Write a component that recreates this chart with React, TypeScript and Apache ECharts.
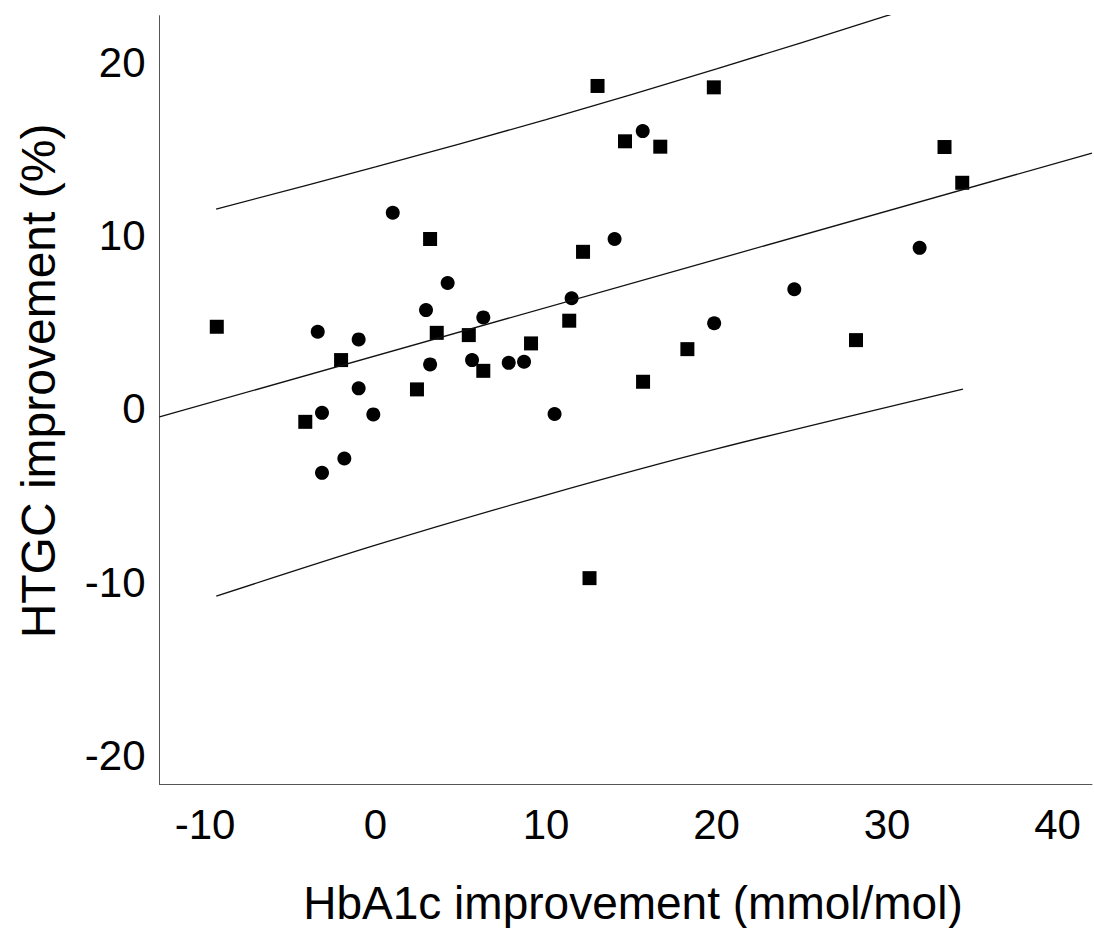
import React, { useEffect, useRef } from 'react';
import * as echarts from 'echarts';

// Axis tick labels
const xTickValues = [-10, 0, 10, 20, 30, 40];
const yTickValues = [-20, -10, 0, 10, 20];

// Axis titles
const xTitle = 'HbA1c improvement (mmol/mol)';
const yTitle = 'HTGC improvement (%)';

// Square-marker group
const squareX = [-9.31, 3.20, 3.59, 5.47, 6.32, -2.02, 2.43, -4.12, 9.12, 11.36, 12.17, 13.02, 14.63, 16.70, 19.84, 15.69, 18.29, 28.18, 33.37, 34.41, 12.55];
const squareY = [4.74, 9.80, 4.39, 4.26, 2.20, 2.82, 1.13, -0.74, 3.78, 5.09, 9.06, 18.62, 15.43, 15.12, 18.54, 1.57, 3.45, 3.97, 15.10, 13.04, -9.75];

// Circle-marker group
const circleX = [1.01, 4.23, 2.96, 6.32, -3.39, -0.99, 3.20, 5.66, 7.81, 8.71, -0.99, -3.14, -0.13, -1.83, -3.14, 10.50, 11.50, 14.02, 15.67, 19.86, 24.56, 31.91];
const circleY = [11.31, 7.26, 5.70, 5.28, 4.45, 4.01, 2.57, 2.82, 2.66, 2.72, 1.19, -0.22, -0.31, -2.85, -3.68, -0.29, 6.38, 9.80, 16.02, 4.94, 6.90, 9.29];

// Fit line and prediction interval curves
const fitX = [-12.67, 42.02];
const fitY = [-0.46, 14.75];
const upperX = [-9.35, 0, 10, 20, 30, 34.45];
const upperY = [11.52, 13.95, 16.68, 19.6, 22.67, 24.15];
const lowerX = [-9.34, 0, 10, 20, 34.45];
const lowerY = [-10.79, -7.85, -4.96, -2.3, 1.15];

const X_MIN = -12.67;
const X_MAX = 42.02;
const Y_MIN = -21.65;
const Y_MAX = 22.67;

const FONT = "'Liberation Sans', Arial, sans-serif";

const pairs = (xs: number[], ys: number[]) => xs.map((x, i) => [x, ys[i]]);

export default function App() {
  const ref = useRef<HTMLDivElement>(null);
  useEffect(() => {
    const chart = echarts.init(ref.current as HTMLDivElement, null, { renderer: 'svg' });
    const lineStyle = { color: '#111', width: 1.3 };
    chart.setOption({
      animation: false,
      backgroundColor: '#fff',
      grid: { left: 159.5, top: 15.7, right: 2, bottom: 143.4, containLabel: false },
      graphic: [
        {
          type: 'text',
          x: 633,
          y: 903,
          style: {
            text: xTitle,
            fontSize: 46,
            fontFamily: FONT,
            fill: '#000',
            align: 'center',
            verticalAlign: 'middle',
          },
        },
        {
          type: 'text',
          x: 38,
          y: 381,
          rotation: Math.PI / 2,
          style: {
            text: yTitle,
            fontSize: 48,
            fontFamily: FONT,
            fill: '#000',
            align: 'center',
            verticalAlign: 'middle',
          },
        },
      ],
      xAxis: {
        type: 'value',
        min: X_MIN,
        max: X_MAX,
        axisLine: { show: true, onZero: false, lineStyle: { color: '#555', width: 1 } },
        axisTick: { show: false },
        splitLine: { show: false },
        axisLabel: {
          customValues: xTickValues,
          fontSize: 42,
          color: '#000',
          fontFamily: FONT,
          margin: 19,
        },
      },
      yAxis: {
        type: 'value',
        min: Y_MIN,
        max: Y_MAX,
        axisLine: { show: true, onZero: false, lineStyle: { color: '#555', width: 1 } },
        axisTick: { show: false },
        splitLine: { show: false },
        axisLabel: {
          customValues: yTickValues,
          fontSize: 42,
          color: '#000',
          fontFamily: FONT,
          margin: 14,
        },
      },
      series: [
        {
          type: 'line',
          data: pairs(fitX, fitY),
          showSymbol: false,
          symbol: 'none',
          lineStyle,
          clip: true,
          silent: true,
        },
        {
          type: 'line',
          data: pairs(upperX, upperY),
          showSymbol: false,
          symbol: 'none',
          smooth: 0.3,
          lineStyle,
          clip: true,
          silent: true,
        },
        {
          type: 'line',
          data: pairs(lowerX, lowerY),
          showSymbol: false,
          symbol: 'none',
          smooth: 0.3,
          lineStyle,
          clip: true,
          silent: true,
        },
        {
          type: 'scatter',
          data: pairs(squareX, squareY),
          symbol: 'rect',
          symbolSize: 14,
          itemStyle: { color: '#000', opacity: 1 },
        },
        {
          type: 'scatter',
          data: pairs(circleX, circleY),
          symbol: 'circle',
          symbolSize: 14,
          itemStyle: { color: '#000', opacity: 1 },
        },
      ],
    });
    return () => chart.dispose();
  }, []);
  return (
    <div
      ref={ref}
      style={{ position: 'fixed', left: 0, top: 0, width: 1094, height: 928, background: '#fff' }}
    />
  );
}
